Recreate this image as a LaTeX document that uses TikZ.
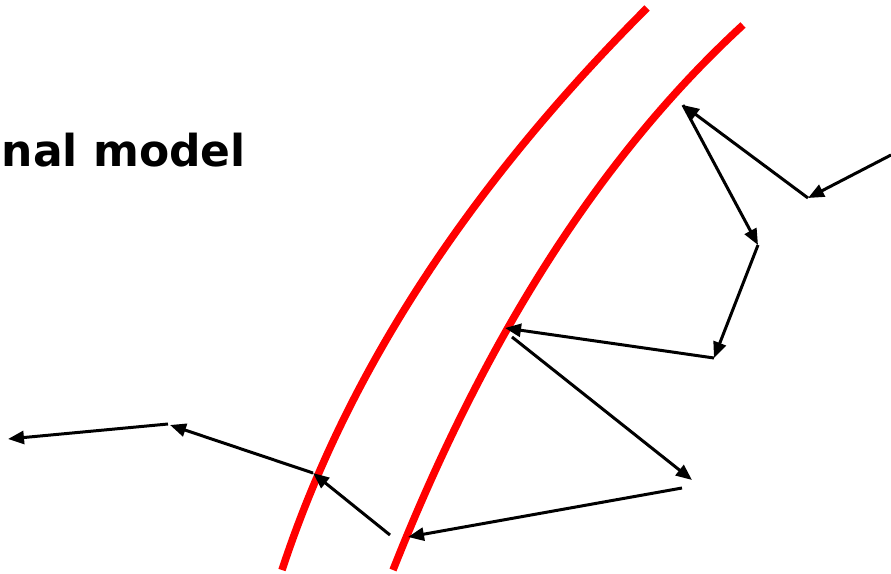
\documentclass[tikz,border=0pt]{standalone}
\usepackage{fontspec}
\newfontfamily\titlefont{DejaVu Sans}
\usetikzlibrary{arrows.meta}
\begin{document}
\begin{tikzpicture}[x=1pt,y=-1pt,
  layer/.style={draw=red,line width=7.5pt,line cap=butt},
  ray/.style={draw=black,line width=3pt,-{Triangle[length=16pt,width=13pt]}},
  lbl/.style={font=\titlefont\bfseries\fontsize{44}{50}\selectfont,inner sep=0pt}]
\useasboundingbox (0,0) rectangle (891,573);
% red layers
\draw[layer] (282,570) .. controls (346.7,373) and (468.3,186.7) .. (647,8);
\draw[layer] (393,570) .. controls (486.3,334.3) and (603,153.7) .. (743,25);
% title text
\node[lbl,anchor=base east] (title) at (246,166) {nal model};
% ray points
\coordinate (s0) at (891,155);
\coordinate (p1) at (808,198);
\coordinate (p2) at (683,105);
\coordinate (p3) at (758,245);
\coordinate (p4) at (714,358);
\coordinate (p5) at (505,328);
\coordinate (p5b) at (512,337);
\coordinate (p6) at (692,480);
\coordinate (p6b) at (682,488);
\coordinate (p7) at (408,537);
\coordinate (p7b) at (390,535);
\coordinate (p8) at (313,473);
\coordinate (p9) at (170,425);
\coordinate (p9b) at (168,424);
\coordinate (p10) at (8,439);
\draw[ray] (s0) -- (p1);
\draw[ray] (p1) -- (p2);
\draw[ray] (p2) -- (p3);
\draw[ray] (p3) -- (p4);
\draw[ray] (p4) -- (p5);
\draw[ray] (p5b) -- (p6);
\draw[ray] (p6b) -- (p7);
\draw[ray] (p7b) -- (p8);
\draw[ray] (p8) -- (p9);
\draw[ray] (p9b) -- (p10);
\end{tikzpicture}
\end{document}
